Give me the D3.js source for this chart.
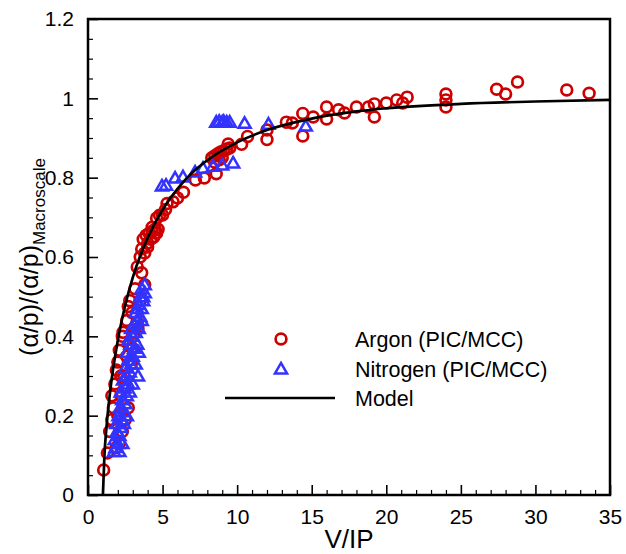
<!DOCTYPE html>
<html><head><meta charset="utf-8">
<script src="https://cdn.jsdelivr.net/npm/d3@7"></script>
<style>body{margin:0;background:#fff}svg{display:block}text{font-family:"Liberation Sans",Arial,sans-serif}</style>
</head><body>
<script>
const xTicks=[0,5,10,15,20,25,30,35];
const yTicks=[0,0.2,0.4,0.6,0.8,1,1.2];
const yTickLabels=["0","0.2","0.4","0.6","0.8","1","1.2"];
const legendLabels=["Argon (PIC/MCC)","Nitrogen (PIC/MCC)","Model"];

const modelX=[1.0,1.1,1.25,1.5,2,2.5,3,3.5,4,5,6,7,8,10,12,15,18,20,25,30,35];
const modelY=[0,0.098,0.175,0.266,0.39,0.479,0.548,0.603,0.648,0.719,0.772,0.813,0.844,0.889,0.92,0.949,0.967,0.975,0.986,0.992,0.996];

const argonX=[1.05,1.3,1.45,1.6,1.7,1.6,1.8,1.9,2.0,2.1,2.3,2.35,2.6,2.7,2.8,2.95,3.15,3.3,3.15,3.3,3.5,3.6,3.8,3.8,4.0,4.3,4.7,4.8,5.3,
2.0,2.2,2.4,2.6,2.8,2.3,2.1,2.5,3.0,2.9,1.9,2.2,2.7,2.5,3.35,3.5,
3.7,3.9,4.1,4.3,4.5,4.6,4.4,4.2,4.0,3.6,
4.6,5.0,5.2,5.7,6.0,6.4,7.2,7.8,8.6,8.5,8.3,8.5,8.7,8.9,9.1,9.3,9.5,9.0,8.8,9.4,10.3,10.7,12.0,12.0,13.3,13.7,14.4,14.4,15.1,16.0,16.0,16.8,17.2,18.0,18.8,19.2,19.2,20.0,20.7,21.1,21.4,24.0,24.0,24.0,27.4,28.0,28.8,32.1,33.6];
const argonY=[0.063,0.106,0.16,0.19,0.22,0.25,0.28,0.315,0.335,0.365,0.40,0.41,0.44,0.475,0.49,0.46,0.41,0.435,0.52,0.575,0.60,0.56,0.53,0.61,0.635,0.675,0.67,0.705,0.735,
0.2,0.25,0.3,0.35,0.38,0.16,0.13,0.27,0.37,0.33,0.12,0.3,0.22,0.19,0.42,0.49,
0.645,0.655,0.66,0.665,0.67,0.66,0.65,0.645,0.625,0.62,
0.698,0.706,0.72,0.739,0.749,0.763,0.794,0.799,0.81,0.839,0.85,0.855,0.86,0.865,0.868,0.872,0.875,0.85,0.845,0.885,0.884,0.904,0.92,0.896,0.94,0.938,0.962,0.905,0.953,0.978,0.948,0.971,0.963,0.978,0.978,0.986,0.953,0.988,0.996,0.988,1.003,1.011,0.996,0.978,1.023,1.011,1.041,1.021,1.013];

const nitroX=[1.75,1.85,2.0,1.8,2.1,1.95,2.2,1.9,2.3,2.05,2.4,2.15,2.5,2.3,2.6,2.2,2.45,2.7,2.35,2.6,3.35,2.8,2.5,2.9,2.7,3.0,2.6,3.1,2.85,3.3,2.7,3.0,3.2,2.9,3.4,3.1,3.3,3.5,3.2,3.6,3.4,3.7,3.5,3.8,3.6,3.8,
3.0,3.2,2.8,3.4,2.4,2.6,2.1,2.3,3.6,3.7,3.3,
4.96,5.23,5.84,6.37,7.18,7.71,8.38,8.99,9.73,8.6,8.8,9.0,9.1,9.3,9.5,10.5,12.1,14.6];
const nitroY=[0.11,0.12,0.13,0.14,0.15,0.16,0.17,0.18,0.19,0.2,0.21,0.22,0.23,0.24,0.25,0.26,0.27,0.28,0.29,0.3,0.3,0.31,0.32,0.33,0.34,0.35,0.36,0.37,0.38,0.38,0.39,0.4,0.41,0.42,0.42,0.43,0.44,0.45,0.46,0.47,0.48,0.49,0.5,0.51,0.52,0.53,
0.28,0.33,0.26,0.36,0.18,0.2,0.11,0.13,0.44,0.5,0.47,
0.779,0.781,0.799,0.802,0.814,0.824,0.829,0.832,0.837,0.94,0.942,0.94,0.942,0.94,0.94,0.937,0.935,0.93];

const W=626,H=554;
const m={l:88,r:16,t:19,b:59};
const svg=d3.select("body").append("svg").attr("width",W).attr("height",H);
const x=d3.scaleLinear().domain([0,35]).range([m.l,W-m.r]);
const y=d3.scaleLinear().domain([0,1.2]).range([H-m.b,m.t]);
const RED="#cc0000",BLUE="#3333ff";

svg.append("clipPath").attr("id","c").append("rect").attr("x",m.l).attr("y",m.t).attr("width",W-m.r-m.l).attr("height",H-m.b-m.t);
const g=svg.append("g").attr("clip-path","url(#c)");

g.selectAll(".ar").data(argonX.map((d,i)=>[d,argonY[i]])).join("circle")
 .attr("cx",d=>x(d[0])).attr("cy",d=>y(d[1])).attr("r",5.4)
 .attr("fill","none").attr("stroke",RED).attr("stroke-width",2.7);
const tri=d3.symbol().type(d3.symbolTriangle).size(64);
g.selectAll(".n2").data(nitroX.map((d,i)=>[d,nitroY[i]])).join("path")
 .attr("d",tri).attr("transform",d=>`translate(${x(d[0])},${y(d[1])+1})`)
 .attr("fill","none").attr("stroke",BLUE).attr("stroke-width",2.5);
g.append("path").datum(modelX.map((d,i)=>[d,modelY[i]]))
 .attr("d",d3.line().x(d=>x(d[0])).y(d=>y(d[1])).curve(d3.curveMonotoneX))
 .attr("fill","none").attr("stroke","#000").attr("stroke-width",2.7);

svg.append("rect").attr("x",m.l).attr("y",m.t).attr("width",W-m.r-m.l).attr("height",H-m.b-m.t)
 .attr("fill","none").attr("stroke","#000").attr("stroke-width",2.5);

const xa=svg.append("g").attr("transform",`translate(0,${H-m.b})`)
 .call(d3.axisBottom(x).tickValues(xTicks).tickSize(-10).tickPadding(14).tickFormat(d3.format("d")));
const xm=svg.append("g").attr("transform",`translate(0,${H-m.b})`)
 .call(d3.axisBottom(x).tickValues(d3.range(1,35).filter(v=>v%5)).tickSize(-5).tickFormat(""));
const ya=svg.append("g").attr("transform",`translate(${m.l},0)`)
 .call(d3.axisLeft(y).tickValues(yTicks).tickSize(-10).tickPadding(14).tickFormat((d,i)=>yTickLabels[i]));
const ym=svg.append("g").attr("transform",`translate(${m.l},0)`)
 .call(d3.axisLeft(y).tickValues(d3.range(1,24).filter(v=>v%4).map(v=>v*0.05)).tickSize(-5).tickFormat(""));
[xa,xm,ya,ym].forEach(a=>{a.select(".domain").remove();a.selectAll("line").attr("stroke","#000").attr("stroke-width",1.6);});
[xm,ym].forEach(a=>a.selectAll("line").attr("stroke-width",1.2));
[xa,ya].forEach(a=>a.selectAll("text").attr("font-size",21).attr("fill","#000").attr("font-family","Liberation Sans, Arial, sans-serif"));

svg.append("text").attr("x",(m.l+W-m.r)/2).attr("y",548).attr("text-anchor","middle")
 .attr("font-size",26).text("V/IP");
const yl=svg.append("text").attr("transform",`translate(38,${(m.t+H-m.b)/2}) rotate(-90)`).attr("text-anchor","middle").attr("font-size",25);
yl.append("tspan").text("(α/p)/(α/p)");
yl.append("tspan").attr("font-size",17).attr("dy",7).text("Macroscale");

const lg=svg.append("g");
lg.append("circle").attr("cx",281).attr("cy",339).attr("r",5.4).attr("fill","none").attr("stroke",RED).attr("stroke-width",2.7);
lg.append("path").attr("d",tri).attr("transform","translate(281,370)").attr("fill","none").attr("stroke",BLUE).attr("stroke-width",2.5);
lg.append("line").attr("x1",225).attr("x2",335).attr("y1",398).attr("y2",398).attr("stroke","#000").attr("stroke-width",2.7);
legendLabels.forEach((t,i)=>lg.append("text").attr("x",355).attr("y",347+i*29.5).attr("font-size",21.5).text(t));
</script>
</body></html>
